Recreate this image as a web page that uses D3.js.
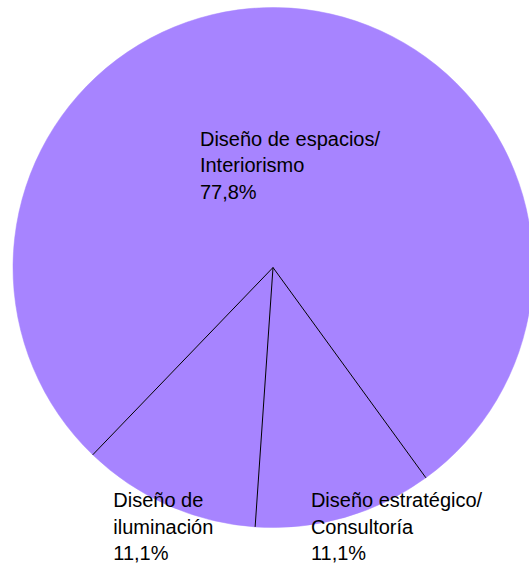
<!DOCTYPE html>
<html>
<head>
<meta charset="utf-8">
<script src="https://cdn.jsdelivr.net/npm/d3@7"></script>
<style>
	body { margin: 0; background: #fff; }
	svg { display: block; }
	text { font-family: "Liberation Sans", Arial, sans-serif; font-size: 20px; fill: #000; }
</style>
</head>
<body>
<div id="chart"></div>
<script>
const categories = ["Diseño de espacios/\nInteriorismo", "Diseño estratégico/\nConsultoría", "Diseño de\niluminación"];
const values = [77.8, 11.1, 11.1];
const valueLabels = ["77,8%", "11,1%", "11,1%"];

const width = 529, height = 570;
const cx = 273, cy = 267.5, radius = 260;
const startDeg = 223.9;
// label offsets from each slice's centroid (first baseline, left aligned)
const labelOffset = [[-82, 8], [2, 115], [-107, 121]];
const lineHeight = 26.5;

let svg = d3.select("#chart").append("svg")
	.attr("width", width)
	.attr("height", height);

let g = svg.append("g")
	.attr("transform", `translate(${cx}, ${cy})`);

let start = startDeg * Math.PI / 180;
let pie = d3.pie()
	.sort(null)
	.value(d => d)
	.startAngle(start)
	.endAngle(start + 2 * Math.PI);

let arcs = pie(values);
let arc = d3.arc().innerRadius(0).outerRadius(radius);

g.selectAll("path.slice")
	.data(arcs)
	.enter()
	.append("path")
		.attr("class", "slice")
		.attr("d", arc)
		.style("fill", "#a784ff")
		.style("stroke", "#a784ff")
		.style("stroke-width", 0.5);

// radial separators only
g.selectAll("line.sep")
	.data(arcs)
	.enter()
	.append("line")
		.attr("class", "sep")
		.attr("x1", 0)
		.attr("y1", 0)
		.attr("x2", d => radius * Math.sin(d.startAngle))
		.attr("y2", d => -radius * Math.cos(d.startAngle))
		.style("stroke", "#000")
		.style("stroke-width", 1);

let labels = g.selectAll("text.label")
	.data(arcs)
	.enter()
	.append("text")
		.attr("class", "label")
		.attr("transform", (d, i) => {
			let c = arc.centroid(d);
			return `translate(${c[0] + labelOffset[i][0]}, ${c[1] + labelOffset[i][1]})`;
		});

labels.each(function(d, i) {
	let lines = categories[i].split("\n").concat(valueLabels[i]);
	d3.select(this).selectAll("tspan")
		.data(lines)
		.enter()
		.append("tspan")
			.attr("x", 0)
			.attr("y", (t, j) => j * lineHeight)
			.text(t => t);
});
</script>
</body>
</html>
